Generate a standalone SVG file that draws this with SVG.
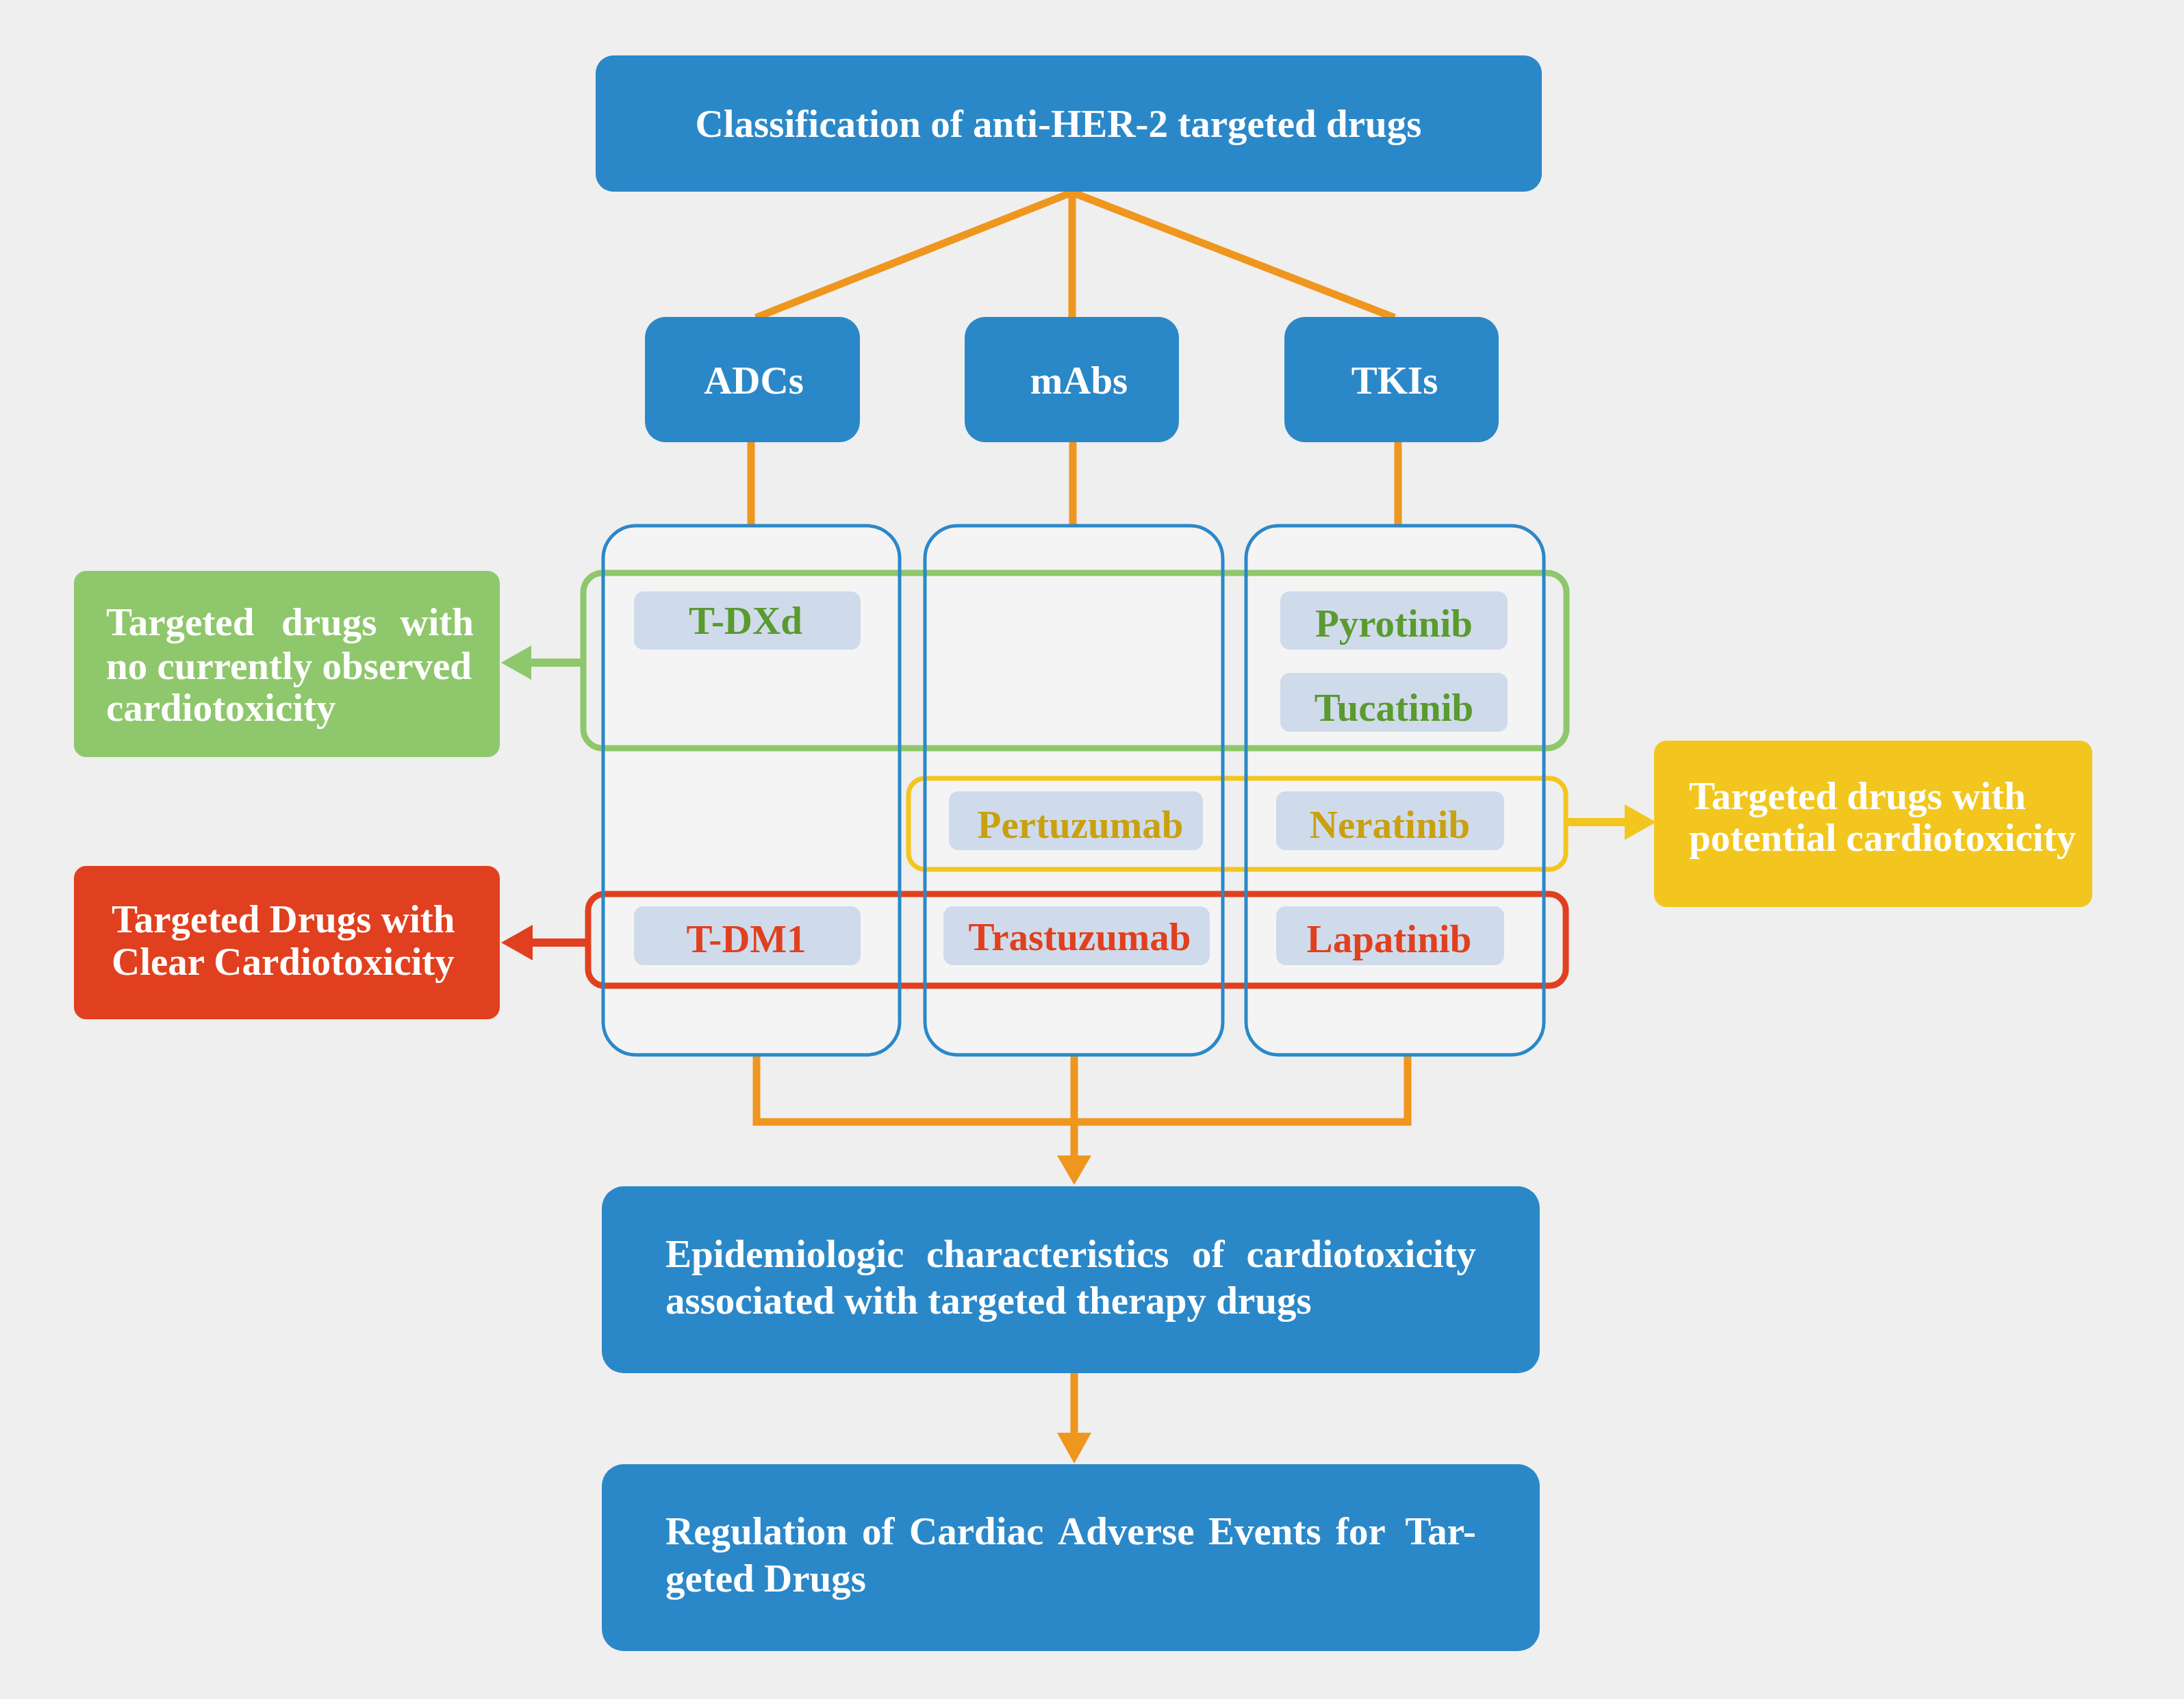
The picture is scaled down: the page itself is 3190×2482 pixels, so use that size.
<svg xmlns="http://www.w3.org/2000/svg" width="3190" height="2482" viewBox="0 0 3190 2482">
<style>
.t{font-family:"Liberation Serif","Times New Roman",serif;font-weight:bold;font-size:57px}
.w{fill:#ffffff}
.blue{fill:#2b88c8}
.col{fill:#f4f4f4}
.colo{fill:none;stroke:#2b88c8;stroke-width:5}
.pill{fill:#cfdbeb}
.or{stroke:#ef961f;stroke-width:11;fill:none}
.orf{fill:#ef961f}
.g{fill:#5a9a2f}
.y{fill:#c9a00f}
.r{fill:#e0401f}
</style>
<rect width="3190" height="2482" fill="#efefef"/>
<g id="connectors">
<line class="or" x1="1566" y1="281" x2="1104" y2="464"/>
<line class="or" x1="1566" y1="281" x2="1566" y2="464"/>
<line class="or" x1="1566" y1="281" x2="2037" y2="464"/>
<line class="or" x1="1097" y1="645" x2="1097" y2="770"/>
<line class="or" x1="1567" y1="645" x2="1567" y2="770"/>
<line class="or" x1="2042" y1="645" x2="2042" y2="770"/>
<polyline class="or" points="1105,1540 1105,1639 2056,1639 2056,1540"/>
<line class="or" x1="1569" y1="1540" x2="1569" y2="1690"/>
<polygon class="orf" points="1544,1688 1594,1688 1569,1731"/>
<line class="or" x1="1569" y1="2005" x2="1569" y2="2095"/>
<polygon class="orf" points="1544,2093 1594,2093 1569,2138"/>
<line x1="852" y1="968" x2="772" y2="968" stroke="#8fc76c" stroke-width="12"/>
<polygon fill="#8fc76c" points="732,968 776,943 776,993"/>
<line x1="860" y1="1377" x2="775" y2="1377" stroke="#e0401f" stroke-width="12"/>
<polygon fill="#e0401f" points="732,1377 778,1351 778,1403"/>
<line x1="2289" y1="1201" x2="2378" y2="1201" stroke="#f2c61e" stroke-width="12"/>
<polygon fill="#f2c61e" points="2419,1201 2373,1175 2373,1227"/>
</g>
<g id="title">
<rect class="blue" x="870" y="81" width="1382" height="199" rx="26"/>
<text class="t w" x="1546" y="200" text-anchor="middle">Classification of anti-HER-2 targeted drugs</text>
</g>
<g id="adcs">
<rect class="blue" x="942" y="463" width="314" height="183" rx="30"/>
<text class="t w" x="1101" y="575" text-anchor="middle">ADCs</text>
</g>
<g id="mabs">
<rect class="blue" x="1409" y="463" width="313" height="183" rx="30"/>
<text class="t w" x="1576" y="575" text-anchor="middle">mAbs</text>
</g>
<g id="tkis">
<rect class="blue" x="1876" y="463" width="313" height="183" rx="30"/>
<text class="t w" x="2037" y="575" text-anchor="middle">TKIs</text>
</g>
<g id="columns-fill">
<rect class="col" x="881" y="768" width="433" height="773" rx="48"/>
<rect class="col" x="1351" y="768" width="435" height="773" rx="48"/>
<rect class="col" x="1820" y="768" width="435" height="773" rx="48"/>
</g>
<g id="group-none">
<rect x="852" y="837" width="1436" height="256" rx="28" fill="none" stroke="#8fc76c" stroke-width="9"/>
</g>
<g id="group-potential">
<rect x="1327" y="1137" width="960" height="133" rx="24" fill="none" stroke="#f2c61e" stroke-width="7"/>
</g>
<g id="group-clear">
<rect x="859" y="1306" width="1428" height="134" rx="24" fill="none" stroke="#e0401f" stroke-width="9"/>
</g>
<g id="columns-outline">
<rect class="colo" x="881" y="768" width="433" height="773" rx="48"/>
<rect class="colo" x="1351" y="768" width="435" height="773" rx="48"/>
<rect class="colo" x="1820" y="768" width="435" height="773" rx="48"/>
</g>
<g id="tdxd">
<rect class="pill" x="926" y="864" width="331" height="85" rx="14"/>
<text class="t g" x="1089" y="926" text-anchor="middle">T-DXd</text>
</g>
<g id="pyrotinib">
<rect class="pill" x="1870" y="864" width="332" height="85" rx="14"/>
<text class="t g" x="2036" y="930" text-anchor="middle">Pyrotinib</text>
</g>
<g id="tucatinib">
<rect class="pill" x="1870" y="983" width="332" height="86" rx="14"/>
<text class="t g" x="2036" y="1053" text-anchor="middle">Tucatinib</text>
</g>
<g id="pertuzumab">
<rect class="pill" x="1386" y="1156" width="371" height="86" rx="14"/>
<text class="t y" x="1578" y="1224" text-anchor="middle">Pertuzumab</text>
</g>
<g id="neratinib">
<rect class="pill" x="1864" y="1156" width="333" height="86" rx="14"/>
<text class="t y" x="2030" y="1224" text-anchor="middle">Neratinib</text>
</g>
<g id="tdm1">
<rect class="pill" x="926" y="1324" width="331" height="86" rx="14"/>
<text class="t r" x="1090" y="1391" text-anchor="middle">T-DM1</text>
</g>
<g id="trastuzumab">
<rect class="pill" x="1378" y="1324" width="389" height="86" rx="14"/>
<text class="t r" x="1577" y="1388" text-anchor="middle">Trastuzumab</text>
</g>
<g id="lapatinib">
<rect class="pill" x="1864" y="1324" width="333" height="86" rx="14"/>
<text class="t r" x="2029" y="1391" text-anchor="middle">Lapatinib</text>
</g>
<g id="no-cardiotoxicity">
<rect x="108" y="834" width="622" height="272" rx="18" fill="#8fc76c"/>
<text class="t w" y="928"><tspan x="155">Targeted</tspan><tspan x="411">drugs</tspan><tspan x="692" text-anchor="end">with</tspan></text>
<text class="t w" x="155" y="992">no currently observed</text>
<text class="t w" x="155" y="1053">cardiotoxicity</text>
</g>
<g id="clear-cardiotoxicity">
<rect x="108" y="1265" width="622" height="224" rx="18" fill="#e0401f"/>
<text class="t w" x="163" y="1362">Targeted Drugs with</text>
<text class="t w" x="163" y="1424">Clear Cardiotoxicity</text>
</g>
<g id="potential-cardiotoxicity">
<rect x="2416" y="1082" width="640" height="243" rx="18" fill="#f2c61e"/>
<text class="t w" x="2467" y="1182">Targeted drugs with</text>
<text class="t w" x="2467" y="1243">potential cardiotoxicity</text>
</g>
<g id="epidemiologic">
<rect class="blue" x="879" y="1733" width="1370" height="273" rx="32"/>
<text class="t w" y="1851"><tspan x="972">Epidemiologic</tspan><tspan x="1353">characteristics</tspan><tspan x="1741">of</tspan><tspan x="2156" text-anchor="end">cardiotoxicity</tspan></text>
<text class="t w" x="972" y="1919">associated with targeted therapy drugs</text>
</g>
<g id="regulation">
<rect class="blue" x="879" y="2139" width="1370" height="273" rx="32"/>
<text class="t w" y="2256"><tspan x="972">Regulation</tspan><tspan x="1259">of</tspan><tspan x="1328">Cardiac</tspan><tspan x="1545">Adverse</tspan><tspan x="1765">Events</tspan><tspan x="1951">for</tspan><tspan x="2156" text-anchor="end">Tar-</tspan></text>
<text class="t w" x="972" y="2325">geted Drugs</text>
</g>
</svg>
